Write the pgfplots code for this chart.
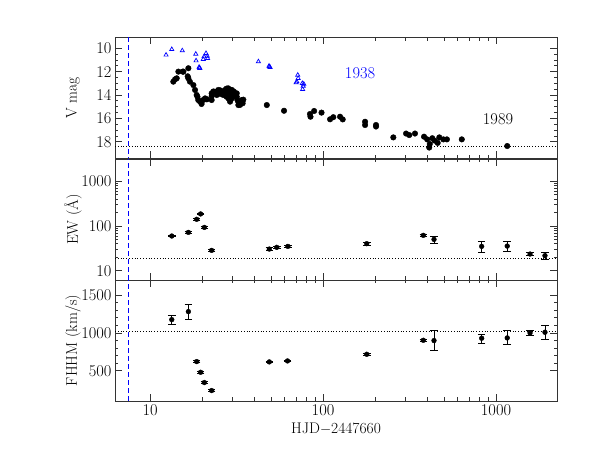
\documentclass[border=0pt]{standalone}
\usepackage{fontspec}
\usepackage{pgfplots}
\pgfplotsset{compat=1.18}
\usepackage{pgfplotstable}

\definecolor{pgblue}{RGB}{0,0,255}
\newcommand{\figfont}{\fontsize{15.5}{18}\selectfont}
\newcommand{\numfont}{\fontsize{16.5}{19}\selectfont}

% V magnitudes, 1989 outburst
\pgfplotstableread{
x y
13.63 12.86
13.95 12.66
14.26 12.57
14.58 12.0
15.45 12.0
15.58 12.0
16.65 11.71
16.5 12.4
16.65 12.57
17.0 12.86
17.8 13.15
18.2 13.57
18.6 14.0
18.8 14.15
19.0 14.43
19.45 14.57
19.85 14.77
20.3 14.43
20.8 14.29
21.3 14.37
22.7 13.86
22.7 14.1
22.7 14.43
23.2 13.7
23.7 13.72
24.3 13.7
24.3 14.0
24.8 13.57
25.4 13.6
25.4 13.9
25.7 13.72
26.5 13.7
26.5 14.0
27.1 13.57
27.1 13.85
27.7 14.15
27.7 13.45
28.3 13.43
28.4 13.85
28.4 14.3
29.0 13.55
29.0 13.86
29.0 14.1
29.0 14.57
29.0 14.4
29.7 13.57
29.7 14.0
29.7 14.29
30.5 13.7
30.5 14.1
31.7 13.86
31.7 14.15
32.0 14.43
32.4 14.86
32.4 14.6
33.1 14.85
33.9 14.43
34.3 14.71
34.6 14.4
47.3 14.86
59.5 15.35
84.0 15.63
84.6 15.86
88.8 15.37
98.0 15.51
109.8 16.08
114.6 15.9
125.4 15.86
129.9 16.09
175 16.29
175 16.57
202.4 16.57
202.4 16.7
254.8 17.63
302 17.3
315 17.43
340 17.3
383.6 17.57
400 17.8
411 18.5
414 18.2
428 17.7
441 17.9
460 18.1
470 17.63
496 17.8
520 17.8
634 17.8
1161 18.37
}\vmagnew

% V magnitudes, 1938 outburst
\pgfplotstableread{
x y
12.37 10.57
13.35 10.09
15.36 10.2
18.38 10.49
18.45 11.06
19.2 11.62
19.4 11.71
19.3 11.66
20.3 10.94
20.5 10.72
21.06 10.43
21.4 10.66
21.5 10.86
42.3 11.14
48.7 11.52
49.4 11.63
49.0 11.57
71.4 12.29
71.8 12.57
69.9 12.94
70.6 12.86
75.9 13.0
76.8 13.23
76.2 13.51
77.4 13.06
}\vmagold

% equivalent width
\pgfplotstableread{
x y ep em
13.35 59.7 2 2
16.65 72 3 3
18.6 141 6 6
19.6 186 8 8
20.6 93 4 4
22.7 28.5 1.2 1.2
48.9 30.5 2 2
54.0 33.3 2 2
62.6 35 2 2
178.9 40.2 3 3
380 61.8 4 4
438 50.2 7.5 9.3
826 35 11 9.3
1161 35.6 9.8 8
1573 23.6 1.5 1.5
1919 21.7 4 3.5
}\ew

% FWHM
\pgfplotstableread{
x y ep em
13.35 1176 62 57
16.65 1282 92 97
18.6 621 10 10
19.6 480 10 10
20.6 344 10 10
22.7 238 10 10
48.9 617 12 12
62.3 630 12 12
178.9 718 12 12
380 903 12 12
438 899 132 132
826 930 57 62
1161 934 97 84
1573 1000 31 35
1919 1009 88 88
}\fwhm

\pgfplotsset{
  every axis/.append style={
    scale only axis, width=442bp, height=121bp,
    xmin=6.27, xmax=2252,
    xtick={10,100,1000},
    tick align=inside,
    major tick length=7bp, minor tick length=3.5bp,
    every tick/.style={black!80, line width=0.7bp},
    axis line style={line width=0.9bp, black!80},
    /pgf/number format/assume math mode=true,
    /pgf/number format/1000 sep={},
    tick label style={font=\numfont},
    label style={font=\figfont},
    ylabel style={at={(axis description cs:-0.095,0.5)}, anchor=center},
  },
  blackpts/.style={only marks, mark=*, mark size=2.8bp, black},
  errpts/.style={only marks, mark=*, mark size=2.4bp, black,
    error bars/.cd, y dir=both, y explicit,
    error bar style={line width=0.7bp, black},
    error mark options={rotate=90, mark size=3.8bp, line width=0.7bp, black}},
  blueline/.style={pgblue, line width=0.8bp, dash pattern=on 5bp off 3bp},
  dotline/.style={black, line width=0.7bp, dash pattern=on 0.8bp off 2bp},
}

\begin{document}
\begin{tikzpicture}[x=1bp,y=1bp]

% top panel: V magnitude
\begin{semilogxaxis}[at={(115bp,303.7bp)},
  y dir=reverse, ymin=9.06, ymax=19.42,
  ytick={10,12,14,16,18}, minor y tick num=3,
  xticklabels={},
  ylabel={V mag}]
\addplot[dotline] coordinates {(6.27,18.37) (2252,18.37)};
\addplot[blueline] coordinates {(7.5,9.06) (7.5,19.42)};
\addplot[blackpts] table[x=x,y=y] {\vmagnew};
\addplot[only marks, mark=triangle, mark size=2.4bp, pgblue, mark options={line width=0.7bp}] table[x=x,y=y] {\vmagold};
\node[pgblue, font=\numfont] at (axis cs:163.7,12.14) {1938};
\node[black, font=\numfont] at (axis cs:1027,16.08) {1989};
\end{semilogxaxis}

% middle panel: EW
\begin{loglogaxis}[at={(115bp,182bp)},
  ymin=6.2, ymax=3150,
  ytick={10,100,1000}, yticklabels={10,100,1000},
  xticklabels={},
  ylabel={EW (\AA)}]
\addplot[dotline] coordinates {(6.27,18.9) (2252,18.9)};
\addplot[blueline] coordinates {(7.5,6.2) (7.5,3150)};
\addplot[errpts] table[x=x,y=y,y error plus=ep,y error minus=em] {\ew};
\end{loglogaxis}

% bottom panel: FHHM
\begin{semilogxaxis}[at={(115bp,61bp)},
  ymin=100, ymax=1700,
  ytick={500,1000,1500}, minor y tick num=4,
  xticklabels={10,100,1000},
  ylabel={FHHM (km/s)},
  xlabel={HJD$-$2447660},
  xlabel style={at={(axis description cs:0.5,-0.234)}, anchor=center}]
\addplot[dotline] coordinates {(6.27,1026) (2252,1026)};
\addplot[blueline] coordinates {(7.5,100) (7.5,1700)};
\addplot[errpts] table[x=x,y=y,y error plus=ep,y error minus=em] {\fwhm};
\end{semilogxaxis}

\pgfresetboundingbox
\path (0,0) rectangle (598bp,462bp);
\end{tikzpicture}
\end{document}
